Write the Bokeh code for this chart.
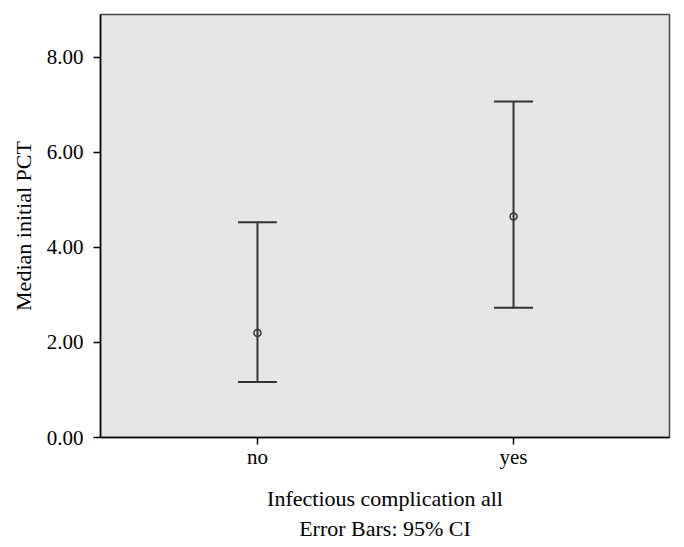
from bokeh.plotting import figure
from bokeh.models import Range1d, FixedTicker, Whisker, TeeHead, ColumnDataSource, Title
from bokeh.embed import file_html
from bokeh.resources import INLINE

categories = ["no", "yes"]
medians = [2.20, 4.65]
lower_ci = [1.17, 2.73]
upper_ci = [4.53, 7.07]
y_ticks = [0, 2, 4, 6, 8]

xs = [i + 1 for i in range(len(categories))]
src = ColumnDataSource(dict(x=xs, m=medians, lo=lower_ci, hi=upper_ci))

FONT = "Liberation Serif"
DARK = "#333333"

p = figure(width=680, height=540, output_backend="svg", toolbar_location=None,
           x_range=Range1d(0.387, 2.609), y_range=Range1d(0, 8.9),
           min_border_left=100, min_border_right=11, min_border_top=14, min_border_bottom=20)

p.background_fill_color = "#e6e6e6"
p.border_fill_color = "white"
p.outline_line_color = "#444444"
p.outline_line_width = 1.5
p.grid.visible = False

w = Whisker(base="x", lower="lo", upper="hi", source=src,
            line_color=DARK, line_width=2,
            lower_head=TeeHead(size=39, line_color=DARK, line_width=2),
            upper_head=TeeHead(size=39, line_color=DARK, line_width=2))
p.add_layout(w)
p.scatter("x", "m", source=src, marker="circle", size=7, fill_color=None,
          line_color=DARK, line_width=1.5)

p.xaxis.ticker = FixedTicker(ticks=xs)
p.xaxis.major_label_overrides = {x: c for x, c in zip(xs, categories)}
p.yaxis.ticker = FixedTicker(ticks=y_ticks)
p.yaxis.major_label_overrides = {t: f"{t:.2f}" for t in y_ticks}

for ax in (p.xaxis, p.yaxis):
    ax.axis_line_color = "black"
    ax.axis_line_width = 1.5
    ax.major_tick_line_color = "black"
    ax.major_tick_line_width = 1.5
    ax.major_tick_out = 7
    ax.major_tick_in = 0
    ax.minor_tick_line_color = None
    ax.major_label_text_font = FONT
    ax.major_label_text_font_size = "21px"
    ax.major_label_text_color = "black"
    ax.axis_label_text_font = FONT
    ax.axis_label_text_font_size = "22px"
    ax.axis_label_text_font_style = "normal"
    ax.axis_label_text_color = "black"

p.xaxis.axis_label = "Infectious complication all"
p.xaxis.major_label_standoff = 0
p.xaxis.axis_label_standoff = 14
p.yaxis.axis_label = "Median initial PCT"
p.yaxis.major_label_standoff = 10
p.yaxis.axis_label_standoff = 8

t2 = Title(text="Error Bars: 95% CI", align="center", text_font=FONT,
           text_font_size="22px", text_font_style="normal", text_color="black",
           standoff=0)
p.add_layout(t2, "below")

open("out.html", "w").write(file_html(p, INLINE))
